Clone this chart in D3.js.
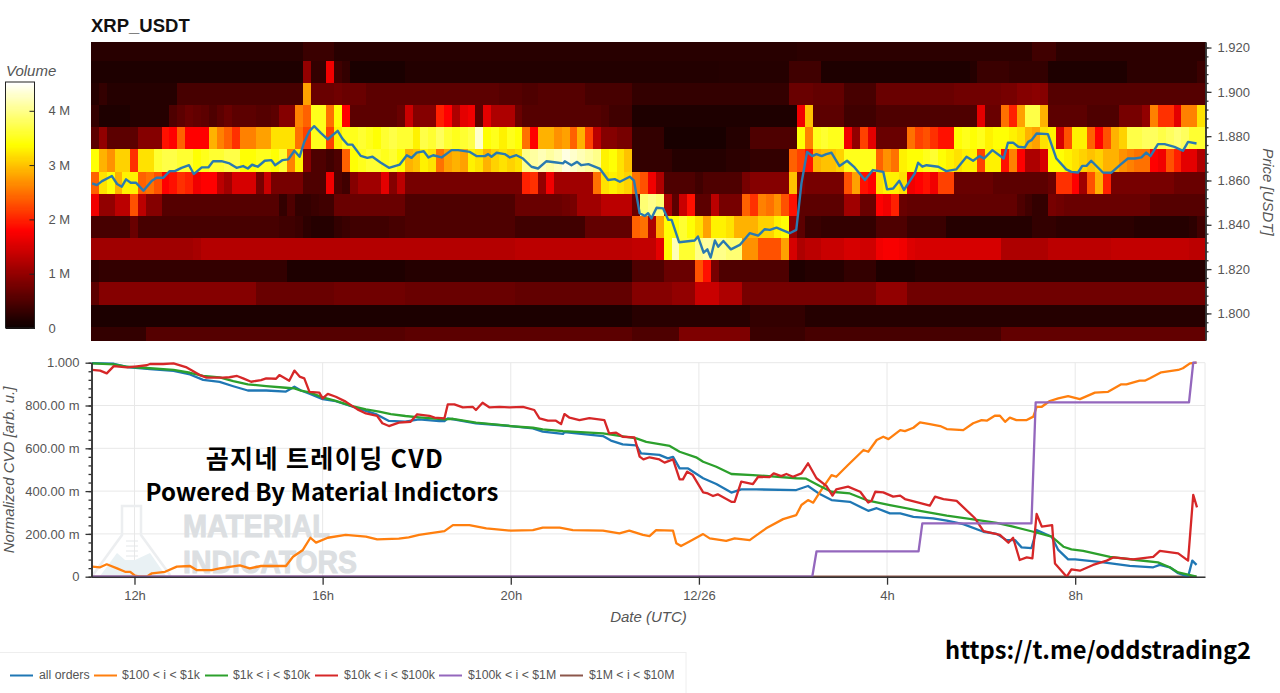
<!DOCTYPE html>
<html>
<head>
<meta charset="utf-8">
<script src="https://cdn.jsdelivr.net/npm/d3@7"></script>
<style>
  body { margin: 0; background: #fff; }
  text { font-family: "Liberation Sans", Arial, sans-serif; }
</style>
</head>
<body>
<script>
// volume per 0.01 price bucket, top row first, one value per 10 minute column (in millions)
const row0 = [.22,.22,.22,.22,.22,.22,.22,.22,.22,.22, .22,.22,.22,.22,.22,.22,.22,.22,.22,.22, .22,.22,.22,.22,.22,.22,.22,.35,.35,.35,
  .35,.22,.22,.22,.22,.22,.22,.22,.22,.22, .22,.22,.22,.22,.22,.22,.22,.22,.22,.22, .22,.22,.22,.22,.22,.22,.22,.22,.22,.22,
  .22,.22,.22,.22,.22,.22,.22,.22,.22,.22, .22,.22,.22,.22,.22,.22,.22,.22,.22,.22, .22,.22,.22,.22,.22,.22,.22,.22,.22,.22,
  .25,.25,.25,.25,.25,.25,.25,.25,.25,.25, .25,.25,.25,.25,.25,.25,.25,.25,.25,.25, .25,.25,.25,.25,.25,.25,.25,.25,.25,.25,
  .4,.4,.4,.25,.25,.25,.25,.25,.25,.25, .25,.25,.25,.25,.25,.25,.25,.25,.25,.25, .25,.25];
const row1 = [.15,.15,.15,.15,.15,.15,.15,.15,.15,.15, .15,.15,.15,.15,.15,.15,.15,.15,.15,.15, .15,.15,.15,.15,.15,.15,.15,1,.3,.3,
  1.7,.4,.3,.12,.12,.12,.12,.12,.12,.12, .18,.18,.18,.18,.18,.18,.18,.18,.18,.18, .18,.18,.18,.18,.18,.18,.18,.18,.18,.18,
  .18,.18,.18,.18,.18,.18,.18,.18,.18,.18, .18,.18,.18,.18,.18,.18,.18,.18,.18,.18, .2,.2,.2,.2,.2,.2,.2,.2,.2,.4,
  .4,.4,.4,.15,.15,.15,.15,.15,.15,.15, .15,.15,.15,.15,.15,.15,.15,.15,.15,.15, .15,.15,.2,.35,.35,.35,.35,.3,.3,.3,
  .3,.3,.15,.15,.15,.15,.15,.15,.15,.15, .15,.15,.25,.25,.25,.25,.25,.25,.25,.25, .25,.35];
const row2 = [.2,.3,.2,.2,.2,.2,.2,.2,.2,.2, .2,.45,.45,.45,.45,.45,.45,.45,.45,.45, .45,.45,.45,.45,.45,.45,.45,2.8,.7,.7,
  .7,.75,.7,.7,.7,.6,.6,.6,.6,.6, .6,.6,.6,.6,.6,.6,.6,.6,.6,.6, .6,.6,.55,.55,.55,.5,.5,.55,.55,.55,
  .55,.55,.55,.45,.45,.45,.45,.45,.45,.3, .3,.3,.3,.3,.3,.3,.3,.3,.3,.3, .3,.3,.3,.3,.3,.3,.3,.3,.3,.7,
  .7,.7,.65,.65,.65,.65,.45,.45,.45,.45, .7,.7,.7,.7,.7,.7,.7,.7,.7,.7, .75,.75,.75,.75,.75,.75,.8,.8,.9,.9,
  .95,.9,.55,.55,.55,.55,.55,.55,.55,.55, .55,.55,.55,.55,.55,.55,.55,.55,.55,.55, .55,.55];
const row3 = [.3,.15,.15,.15,.15,.2,.2,.2,.2,.2, .5,.6,.7,.65,.6,.5,.6,.7,.6,.6, .6,.55,.55,.6,.9,.9,2.6,2.4,3.5,3.5,
  2.5,3.4,1.8,.6,.6,.6,.6,.6,.6,.7, 1.4,.9,.9,.9,2,1.8,1.2,1.6,1.7,.6, 1.6,1.2,1.2,1.2,.7,.55,.55,.55,.55,.55,
  .55,.55,.55,.55,.55,.5,.4,.4,.4,.15, .15,.15,.15,.15,.15,.15,.15,.15,.15,.15, .15,.15,.15,.15,.15,.15,.15,.15,.15,.15,
  1.7,3,.6,.6,.6,.6,.4,.4,.4,.4, .5,.5,.5,.5,.5,.5,.5,.5,.5,.5, .5,.5,.5,1.6,.7,.7,2.5,2,2.8,3.7,
  3.7,2.9,.6,.6,.6,.6,.6,.5,.5,.5, .5,.8,.8,.8,1,2.6,2.1,2.1,1.6,2.6, 2.6,3.2];
const row4 = [.6,1,.6,.6,.6,.6,.9,.9,.9,1.9, 1.8,2.4,1.8,1.8,1.8,2.9,2.6,2.4,2.1,2.6, 2.6,2.8,2.8,3.2,3.2,3.2,2.5,2.2,3.5,3.5,
  2.2,3.3,3.5,3.5,3.6,3.5,3.4,3.6,3.7,3.6, 3.6,3.3,3.7,3.6,3.8,3.6,3.5,3.6,3.7,4.3, 3.4,3.5,3.3,3.5,3.4,2.5,1.8,2.9,2.9,2.7,
  2.8,2.4,2.9,2.2,1.3,.9,.9,.8,.8,.3, .3,.3,.3,.1,.1,.1,.1,.1,.1,.1, .1,.2,.2,.2,.5,.5,.5,.5,.5,.5,
  3.4,2.6,3.5,3.6,3.5,3.5,1.7,1,2.2,1.6, .7,.7,.7,.7,2.5,2.2,2.3,2.1,1.9,1.9, 3.4,3.5,3.4,3.5,3.3,3.4,3.4,3.3,3.2,2.9,
  2.8,3.2,3.3,1.5,2.3,3.3,3.3,2.4,1.8,2.3, 2.9,3.1,3.7,3.7,3.8,3.8,3.7,3.8,3.9,3.8, 3.6,3.6];
const row5 = [3.4,2.9,2.7,3.1,3.1,2.1,3.2,3.2,3.6,3.7, 3.7,3.6,3.6,3.4,3.5,3.6,3.6,3.7,3.7,3.4, 3.4,3.5,3.5,3.4,3.6,2.6,3.3,.9,.5,.5,
  .4,.5,2.4,3.4,3.5,3.6,3.6,3.5,3.6,3.4, 2.9,3,3.3,3.2,2.5,2.8,2.9,2.8,3.3,3.2, 2.9,3.1,3.2,3.1,3.2,4,4.1,4.2,4.1,4.2,
  4.4,4.3,4.2,4.1,4,3.3,3.4,3.2,3,.3, .3,.3,.3,.3,.2,.2,.2,.2,.2,.2, .2,.25,.25,.25,.3,.3,.3,.3,.3,2.4,
  2.2,1.9,2.9,3,3,3.1,3.5,3.5,3.5,3.5, 2.4,2.7,2.5,3.3,3.4,3.4,3.5,3.6,3.4,3.3, 3.2,3.3,3.3,2.2,3.3,3.3,1.9,2.6,1.8,1.2,
  1.2,1.5,3.4,3.4,3.3,3.2,3.1,3,3.1,2.9, 2.9,2.7,2.6,2.5,2.5,1.8,1.7,2.3,2,1.6, 1.6,1.2];
const row6 = [2.4,3.2,3.4,2.9,3.3,3.3,2.4,2.5,2.3,1.8, 1.9,2.1,2,1.7,1.8,1.8,1.3,1.1,1.5,1.5, 1.5,.8,1.4,.8,.8,.8,.8,.5,.5,.5,
  1.7,.5,.4,.9,1.1,1.1,1.1,1.6,.9,1.3, .8,.8,.8,.8,.8,.8,.8,.8,.8,.8, .8,.8,.8,.8,.8,2,2.1,1,1.7,1.1,
  1.1,1.1,1.1,1.1,2.5,3.2,3.3,3.2,3.1,2.5, 2.3,1.7,1.2,.5,.5,.5,.5,.4,.5,.5, .5,.5,.5,.8,.9,.9,.9,.9,.9,3,
  .9,.8,.8,.8,.8,.8,2.3,2.8,1.9,1.8, 3.2,3.3,3.3,3.2,1.7,1.8,1.9,1.7,2.2,2.2, .7,.7,.7,.7,.7,.6,.6,.6,.6,.6,
  .6,.6,.7,2.1,2.1,1.8,1.1,2.3,2.9,2, .8,.8,.8,.8,.8,.8,.8,.8,.7,.7, .7,.7];
const row7 = [1.7,1,1,1.3,1.3,2.3,1.3,.9,.9,.55, .55,.55,.55,.55,.55,.55,.55,.55,.55,.55, .55,.55,.55,.55,.3,.5,.3,.3,.35,.4,
  .4,.7,.7,.7,.7,.7,.7,.7,.7,.7, .5,.5,.5,.5,.5,.5,.5,.5,.5,.5, .5,.5,.5,.5,.7,.7,.7,.7,.7,.7,
  .75,.8,1.1,1.1,1.1,1.3,1.3,1.3,1.3,.7, 3.9,4,3.9,1.2,.6,1.4,1.9,.6,.6,1.3, .8,.8,.8,2.4,2.1,2.6,2.5,2.7,2.3,1.9,
  .6,.6,.6,.6,.6,.6,1.1,1.1,.7,.7, 1.8,1.7,2,.7,.65,.65,.65,.65,.65,.65, .65,.65,.65,.65,.65,.65,.65,.65,.5,.4,
  .3,.3,.8,.75,.7,.7,.7,.7,.7,.7, .7,.7,.7,.7,.7,.55,.55,.55,.55,.55, .55,.55];
const row8 = [.45,.45,.45,.45,.45,.7,.45,.45,.45,.45, .45,.45,.45,.45,.45,.45,.45,.45,.45,.45, .45,.45,.45,.45,.4,.4,.35,.25,.2,.2,
  .2,.3,.35,.4,.4,.4,.4,.4,.45,.45, .5,.5,.5,.5,.5,.5,.5,.5,.5,.5, .5,.5,.5,.5,.4,.4,.4,.4,.4,.4,
  .4,.4,.4,.65,.65,.65,.65,.65,.65,2.4, 2.5,1.2,2.8,3.4,3.4,3.6,3.4,3.2,2.8,3.3, 3.3,3.2,2.9,2.9,2.9,3.1,3.1,3.3,3.4,1,
  .6,.35,.35,.3,.3,.3,.3,.3,.3,.3, .5,.5,.5,.5,.35,.35,.35,.35,.35,.2, .2,.2,.2,.2,.2,.2,.2,.2,.2,.2,
  .3,.3,.3,.25,.25,.25,.25,.25,.25,.25, .25,.25,.25,.2,.2,.2,.2,.2,.2,.2, .25,.4];
const row9 = [1.1,1.1,1.1,1.1,1.1,1.1,1.1,1.1,1.1,1.1, 1.1,1.1,1.1,1.15,1.25,1.25,1.25,1.25,1.25,1.25, 1.25,1.25,1.25,1.25,1.25,1.25,1.25,1.25,1.25,1.25,
  1.25,1.25,1.25,1.25,1.25,1.25,1.25,1.25,1.25,1.25, 1.25,1.25,1.25,1.25,1.25,1.25,1.25,1.25,1.25,1.25, 1.25,1.25,1.25,1.25,1.3,1.3,1.3,1.3,1.3,1.3,
  1.3,1.3,1.3,1.3,1.3,1.3,1.3,1.3,1.3,1.35, 1.35,1.35,1.6,3.4,4.2,3.6,3.6,4,4.1,4, 4,3.9,3.9,2.7,2.7,2.3,2.3,2.3,2.8,1.5,
  1.2,1.3,1.3,1.4,1.4,1.4,1.5,1.5,1.45,1.45, 1.7,1.75,1.75,1.7,1.55,1.5,1.5,1.5,1.5,1.5, 1.5,1.5,1.5,1.5,1.5,1.5,1.2,1.2,1.2,1.2,
  1.2,1.2,1.3,1.3,1.3,1.3,1.3,1.3,1.3,1.3, 1.35,1.35,1.35,1.35,1.35,1.35,1.35,1.35,1.35,1.35, 1.3,1.3];
const row10 = [.25,.3,.3,.3,.3,.3,.3,.3,.3,.3, .3,.3,.3,.3,.3,.3,.3,.3,.3,.3, .3,.3,.3,.3,.3,.15,.15,.15,.15,.15,
  .15,.15,.15,.15,.15,.15,.15,.15,.15,.15, .2,.2,.2,.2,.2,.2,.2,.2,.2,.2, .2,.2,.2,.2,.2,.2,.2,.2,.2,.2,
  .2,.2,.2,.2,.2,.2,.2,.2,.2,.5, .5,.5,.5,.7,.7,.7,.7,2.3,1.9,.8, .5,.5,.5,.5,.5,.5,.5,.5,.5,.15,
  .15,.2,.2,.2,.2,.2,.3,.3,.3,.3, .15,.15,.15,.15,.15,.2,.2,.2,.2,.2, .2,.2,.2,.2,.2,.2,.2,.2,.2,.2,
  .2,.2,.2,.2,.2,.2,.2,.2,.2,.2, .2,.2,.2,.2,.2,.2,.2,.2,.2,.2, .2,.2];
const row11 = [.6,.9,.9,.9,.9,.9,.9,.9,.9,.9, .9,.9,.9,.9,.9,.9,.9,.9,.9,.9, .9,.7,.7,.7,.7,.7,.7,.7,.7,.7,
  .7,.75,.75,.75,.75,.75,.75,.75,.75,.75, .7,.7,.7,.7,.7,.7,.7,.7,.7,.7, .7,.7,.7,.7,.65,.65,.65,.65,.65,.65,
  .65,.65,.65,.65,.65,.65,.65,.65,.65,.9, .9,.9,.9,.9,1,1,1,1.4,1.4,1.4, 1.2,1.2,1.2,.8,.8,.8,.8,.8,.8,.8,
  .8,.8,.8,.8,.8,.8,.8,.8,.8,.8, 1,1,1,1,.75,.75,.75,.75,.75,.75, .75,.75,.75,.75,.75,.75,.75,.75,.75,.75,
  .75,.75,.75,.75,.75,.75,.75,.75,.75,.75, .75,.75,.75,.75,.75,.75,.75,.75,.75,.75, .75,.75];
const row12 = [.13,.13,.13,.13,.13,.13,.13,.13,.13,.13, .13,.13,.13,.13,.13,.13,.13,.13,.13,.13, .13,.13,.13,.13,.13,.13,.13,.13,.13,.13,
  .13,.13,.13,.13,.13,.13,.13,.13,.13,.13, .13,.13,.13,.13,.13,.13,.13,.13,.13,.13, .13,.13,.13,.13,.13,.13,.13,.13,.13,.13,
  .13,.13,.13,.13,.13,.13,.13,.13,.13,.22, .22,.22,.22,.22,.22,.22,.22,.22,.22,.22, .22,.22,.22,.22,.3,.3,.3,.3,.3,.3,
  .3,.2,.2,.2,.2,.2,.2,.2,.2,.2, .2,.2,.2,.2,.2,.2,.2,.2,.2,.2, .2,.2,.2,.2,.2,.2,.2,.2,.2,.2,
  .2,.2,.2,.2,.2,.2,.2,.2,.2,.2, .2,.2,.2,.2,.2,.2,.2,.2,.2,.2, .2,.2];
const row13 = [.3,.3,.3,.3,.3,.3,.3,.55,.55,.55, .55,.55,.55,.55,.55,.55,.55,.55,.55,.55, .55,.55,.55,.55,.55,.55,.55,.55,.55,.55,
  .55,.55,.55,.55,.55,.55,.55,.55,.55,.55, .6,.6,.6,.6,.6,.6,.6,.6,.6,.6, .6,.6,.6,.6,.6,.6,.6,.6,.6,.6,
  .6,.6,.6,.6,.6,.6,.6,.6,.6,.5, .5,.5,.5,.5,.5,.85,.85,.85,.85,.85, .85,.85,.85,.85,.35,.35,.35,.35,.35,.35,
  .35,.45,.45,.45,.45,.45,.45,.45,.45,.45, .45,.45,.45,.45,.45,.45,.45,.45,.45,.45, .45,.45,.45,.45,.45,.45,.65,.65,.65,.65,
  .65,.65,.65,.65,.65,.65,.65,.65,.65,.65, .65,.65,.65,.65,.65,.65,.65,.65,.65,.65, .65,.65];
const heatRows = [row0, row1, row2, row3, row4, row5, row6, row7, row8, row9, row10, row11, row12, row13];

// bucket edges in USDT, top to bottom
const rowEdges = [1.9225, 1.914, 1.904, 1.894, 1.884, 1.874, 1.864, 1.854, 1.844, 1.834, 1.824, 1.814, 1.804, 1.794, 1.788];

// time is hours since 12/25 00:00
const priceLine = [[11.1,1.8587],[11.2,1.8579],[11.31,1.8597],[11.52,1.862],[11.63,1.8584],[11.73,1.8572],[11.82,1.8605],[11.92,1.859],[12.03,1.859],[12.19,1.8554],
  [12.37,1.8599],[12.47,1.8612],[12.61,1.8612],[12.75,1.8642],[12.86,1.8642],[13,1.8657],[13.16,1.8669],[13.26,1.8629],[13.43,1.8659],[13.57,1.8659],
  [13.67,1.8687],[13.85,1.8687],[14.02,1.8677],[14.17,1.8657],[14.31,1.8665],[14.41,1.8654],[14.5,1.8671],[14.62,1.8662],[14.77,1.8689],[14.91,1.8692],
  [14.99,1.8669],[15.15,1.8692],[15.27,1.8695],[15.4,1.8734],[15.51,1.8707],[15.61,1.8774],[15.72,1.8823],[15.82,1.8845],[15.96,1.8815],[16.11,1.8786],
  [16.32,1.8824],[16.42,1.8789],[16.53,1.8762],[16.63,1.8762],[16.81,1.8711],[16.95,1.8702],[17.06,1.8707],[17.23,1.8681],[17.41,1.8657],[17.64,1.8672],
  [17.79,1.8714],[17.89,1.8702],[18,1.8726],[18.15,1.8732],[18.25,1.8704],[18.35,1.8714],[18.53,1.8704],[18.74,1.8737],[18.88,1.8737],[19.13,1.8729],
  [19.27,1.871],[19.45,1.871],[19.52,1.8719],[19.59,1.8707],[19.7,1.8725],[19.87,1.8719],[19.98,1.8704],[20.12,1.8714],[20.26,1.8699],[20.44,1.8662],
  [20.58,1.8654],[20.76,1.8687],[20.97,1.8681],[21.11,1.8677],[21.15,1.8687],[21.29,1.8669],[21.41,1.8684],[21.5,1.8669],[21.65,1.8674],[21.89,1.8654],
  [22.07,1.8602],[22.21,1.8606],[22.32,1.8594],[22.53,1.8617],[22.62,1.8599],[22.74,1.8452],[22.85,1.844],[22.92,1.8452],[22.99,1.8429],[23.1,1.8477],
  [23.24,1.8474],[23.35,1.8422],[23.42,1.8422],[23.58,1.8321],[23.91,1.8329],[23.98,1.8347],[24.1,1.8274],[24.18,1.8289],[24.25,1.8252],[24.34,1.8329],
  [24.41,1.8301],[24.52,1.8327],[24.68,1.8289],[24.87,1.8309],[25.08,1.8362],[25.26,1.8351],[25.4,1.838],[25.51,1.8377],[25.65,1.8387],[25.93,1.8362],
  [26.07,1.8377],[26.18,1.8587],[26.3,1.8729],[26.41,1.871],[26.5,1.8719],[26.61,1.871],[26.71,1.8719],[26.82,1.8725],[26.99,1.8665],[27.15,1.8689],
  [27.31,1.8659],[27.53,1.8602],[27.7,1.8647],[27.92,1.8639],[28,1.856],[28.13,1.8564],[28.26,1.8599],[28.36,1.8557],[28.59,1.8632],[28.66,1.868],
  [28.75,1.8662],[28.84,1.8669],[29.09,1.8662],[29.26,1.8642],[29.47,1.865],[29.69,1.8707],[29.83,1.8689],[29.97,1.871],[30.06,1.8699],[30.24,1.8737],
  [30.48,1.8699],[30.57,1.877],[30.68,1.8771],[30.79,1.8752],[30.93,1.8749],[31,1.8774],[31.07,1.8782],[31.18,1.8812],[31.42,1.8809],[31.6,1.8699],
  [31.81,1.865],[31.92,1.8639],[32.06,1.8636],[32.15,1.8666],[32.24,1.8666],[32.34,1.8689],[32.59,1.8636],[32.77,1.8635],[32.95,1.8669],[33.12,1.8699],
  [33.27,1.8699],[33.41,1.8704],[33.51,1.8726],[33.6,1.871],[33.76,1.8764],[33.9,1.8764],[34.11,1.8752],[34.29,1.8734],[34.4,1.8774],[34.58,1.8767]];

const cvdAll = [[11.09,.998],[11.56,.995],[11.84,.98],[12.33,.97],[12.83,.962],[13.18,.945],[13.46,.92],[13.81,.91],[14.1,.89],[14.41,.87],[14.8,.87],[15.22,.865],[15.4,.888],[15.54,.87],[15.72,.855],
  [16,.83],[16.28,.82],[16.56,.8],[16.85,.78],[17.13,.76],[17.41,.728],[17.76,.725],[18.05,.735],[18.48,.727],[18.59,.727],[18.66,.74],[19.26,.717],[20,.704],[20.47,.693],[20.68,.678],
  [21.11,.667],[21.14,.676],[21.96,.657],[22.13,.636],[22.38,.618],[22.67,.614],[22.77,.576],[23.16,.569],[23.34,.553],[23.45,.56],[23.59,.506],[23.77,.506],[24.09,.46],[24.37,.433],[24.69,.393],
  [24.9,.408],[25.22,.408],[26.07,.405],[26.32,.424],[26.57,.386],[26.82,.358],[27.21,.35],[27.6,.308],[27.78,.32],[28.06,.296],[28.28,.296],[28.56,.28],[28.77,.276],[28.98,.273],[29.27,.262],
  [29.62,.246],[30.05,.21],[30.33,.2],[30.54,.171],[30.72,.171],[30.86,.137],[31.07,.134],[31.18,.218],[31.5,.187],[31.64,.125],[31.85,.081],[32,.081],[32.6,.067],[33.16,.051],[33.66,.044],
  [33.8,.055],[34.01,.044],[34.19,.016],[34.4,0],[34.49,.075],[34.58,.055]];
const cvd100 = [[11.1,.047],[11.27,.044],[11.41,.058],[11.63,.039],[11.8,.023],[11.91,.023],[12.01,.005],[12.12,0],[12.26,0],[12.37,.016],[12.65,.023],[12.9,.047],[13.18,.05],[13.32,.031],[13.64,.031],
  [13.81,.039],[14.24,.053],[14.45,.039],[14.69,.05],[15.22,.05],[15.37,.093],[15.58,.125],[15.74,.182],[15.86,.159],[16.11,.182],[16.49,.195],[16.92,.187],[17.16,.174],[17.62,.178],[17.83,.184],
  [18.05,.195],[18.59,.213],[18.77,.241],[19.12,.241],[19.48,.226],[20,.215],[20.47,.218],[20.68,.229],[21.04,.229],[21.32,.218],[21.96,.215],[22.31,.202],[22.52,.215],[22.81,.195],[22.95,.19],
  [23.09,.218],[23.45,.215],[23.52,.156],[23.62,.143],[23.8,.164],[24.09,.199],[24.23,.179],[24.58,.167],[24.76,.179],[25.08,.171],[25.22,.193],[25.43,.226],[25.79,.269],[26.07,.288],[26.18,.335],
  [26.32,.358],[26.43,.346],[26.6,.405],[26.82,.475],[26.92,.467],[27.17,.522],[27.5,.592],[27.6,.584],[27.78,.639],[27.92,.654],[28.03,.643],[28.28,.685],[28.38,.68],[28.56,.696],[28.7,.721],
  [28.91,.713],[29.13,.704],[29.27,.69],[29.62,.685],[29.83,.717],[30.01,.732],[30.12,.729],[30.29,.752],[30.4,.752],[30.51,.724],[30.61,.743],[30.75,.732],[30.97,.732],[31.11,.748],[31.18,.794],
  [31.29,.794],[31.46,.821],[31.64,.833],[31.85,.844],[32.1,.83],[32.42,.86],[32.7,.864],[32.98,.899],[33.09,.899],[33.37,.916],[33.48,.916],[33.59,.927],[33.83,.955],[34.19,.966],[34.29,.974],
  [34.44,.997],[34.58,1]];
const cvd1k = [[11.1,.997],[11.56,.992],[11.84,.981],[12.33,.974],[12.83,.966],[13.18,.953],[13.46,.938],[13.81,.931],[14.1,.914],[14.41,.899],[14.8,.891],[15.22,.883],[15.4,.88],[15.54,.869],[15.72,.861],
  [16,.838],[16.28,.822],[16.63,.797],[16.92,.782],[17.2,.771],[17.45,.76],[17.76,.751],[18.05,.745],[18.59,.735],[18.77,.738],[19.26,.72],[20,.704],[20.47,.696],[20.68,.688],[21.11,.68],[21.96,.67],
  [22.67,.646],[22.88,.63],[23.38,.611],[23.59,.584],[23.94,.558],[24.09,.537],[24.37,.514],[24.69,.48],[25.15,.475],[26.07,.46],[26.28,.458],[26.57,.424],[26.82,.397],[27.21,.389],[27.6,.355],
  [28.06,.335],[28.7,.308],[29.27,.285],[29.83,.268],[30.33,.252],[30.68,.234],[31.11,.21],[31.5,.187],[31.75,.14],[31.92,.128],[32.17,.121],[32.74,.093],[33.3,.078],[33.76,.067],[34.01,.044],[34.19,.02],[34.58,0]];
const cvd10k = [[11.1,.966],[11.27,.963],[11.41,.95],[11.56,.984],[11.84,.978],[12.05,.983],[12.26,.988],[12.33,.994],[12.61,.994],[12.83,.997],[13.11,.978],[13.39,.942],[13.53,.93],[13.88,.93],[14.02,.932],
  [14.18,.938],[14.31,.927],[14.48,.911],[14.69,.919],[14.8,.927],[15.01,.925],[15.08,.942],[15.29,.916],[15.4,.963],[15.51,.935],[15.61,.927],[15.72,.864],[15.93,.86],[16,.833],[16.11,.854],[16.28,.841],
  [16.49,.818],[16.74,.782],[16.92,.763],[17.16,.751],[17.27,.717],[17.41,.704],[17.62,.72],[17.87,.724],[18.01,.759],[18.27,.752],[18.38,.743],[18.59,.74],[18.66,.805],[18.8,.805],[18.98,.791],
  [19.19,.794],[19.26,.779],[19.4,.813],[19.55,.791],[19.76,.794],[19.97,.791],[20.26,.794],[20.5,.779],[20.61,.74],[20.79,.729],[20.96,.729],[21.07,.713],[21.14,.76],[21.25,.743],[21.46,.732],
  [21.67,.741],[21.99,.732],[22.09,.67],[22.24,.673],[22.38,.654],[22.63,.651],[22.74,.561],[22.82,.548],[22.95,.558],[23.16,.548],[23.27,.533],[23.45,.548],[23.59,.455],[23.66,.455],[23.75,.491],
  [23.87,.475],[24.09,.394],[24.19,.389],[24.3,.377],[24.4,.385],[24.69,.35],[24.76,.35],[24.9,.444],[25.15,.433],[25.26,.467],[25.5,.465],[25.59,.483],[25.75,.47],[25.86,.48],[26,.467],[26.18,.483],
  [26.32,.53],[26.5,.46],[26.71,.424],[26.84,.379],[26.92,.408],[27.17,.421],[27.43,.397],[27.6,.347],[27.67,.355],[27.75,.397],[27.92,.394],[28.13,.374],[28.28,.379],[28.38,.363],[28.67,.346],
  [28.91,.332],[29.02,.374],[29.2,.363],[29.48,.354],[29.87,.273],[30.05,.213],[30.4,.195],[30.58,.159],[30.68,.182],[30.82,.078],[30.97,.09],[31.09,.086],[31.18,.293],[31.29,.234],[31.51,.241],
  [31.57,.062],[31.82,0],[31.92,.034],[32.1,.028],[32.38,.055],[32.67,.075],[32.81,.09],[33.23,.081],[33.66,.093],[33.8,.121],[34.19,.109],[34.4,.075],[34.51,.382],[34.59,.324]];
const cvd100k = [[11.09,0],[26.41,0],[26.5,.118],[28.67,.118],[28.75,.249],[31.07,.249],[31.16,.815],[34.42,.815],[34.51,1],[34.58,1]];
const cvd1m = [[11.09,0],[34.58,0]];

const seriesNames = ["all orders", "$100 < i < $1k", "$1k < i < $10k", "$10k < i < $100k", "$100k < i < $1M", "$1M < i < $10M"];
const seriesColors = ["#1f77b4", "#ff7f0e", "#2ca02c", "#d62728", "#9467bd", "#8c564b"];
const seriesData = [cvdAll, cvd100, cvd1k, cvd10k, cvd100k, cvd1m];
const drawOrder = [5, 0, 1, 2, 3, 4];

const timeTicks = [12, 16, 20, 24, 28, 32];
const timeLabels = ["12h", "16h", "20h", "12/26", "4h", "8h"];
const priceTicks = [1.8, 1.82, 1.84, 1.86, 1.88, 1.9, 1.92];
const cvdTicks = [0, .2, .4, .6, .8, 1];
const volumeTicks = [0, 1, 2, 3, 4];

const left = 91.5, right = 1205;
const svg = d3.select("body").append("svg").attr("width", 1280).attr("height", 693).style("display", "block");

const x = d3.scaleLinear().domain([11.086, 34.76]).range([left, right]);
const yPrice = d3.scaleLinear().domain([1.788, 1.9225]).range([340, 42]);
const yCvd = d3.scaleLinear().domain([0, 1]).range([576.7, 362.7]);
const yVol = d3.scaleLinear().domain([0, 4.53]).range([328, 82]);
const col = d3.scaleBand().domain(d3.range(142)).range([91, right]);

// bokeh "Hot" palette
const hot = d3.scaleLinear().domain([0, 1.8, 3.38, 4.53]).range(["#0a0000", "#ff0000", "#ffff00", "#ffffff"]).clamp(true);

svg.append("text").attr("x", 91).attr("y", 32).style("font-size", "18.5px").style("font-weight", "bold").attr("fill", "#111").text("XRP_USDT");

// heatmap
const rows = svg.append("g").attr("shape-rendering", "crispEdges").selectAll("g").data(heatRows).enter().append("g");
rows.selectAll("rect")
  .data((d, i) => d.map(v => ({v: v, r: i})))
  .enter().append("rect")
  .attr("x", (d, i) => col(i))
  .attr("y", d => yPrice(rowEdges[d.r]))
  .attr("width", col.bandwidth() + .6)
  .attr("height", d => yPrice(rowEdges[d.r + 1]) - yPrice(rowEdges[d.r]) + .6)
  .attr("fill", d => hot(d.v));

const line = yScale => d3.line().x(d => x(d[0])).y(d => yScale(d[1]));

svg.append("path").attr("d", line(yPrice)(priceLine))
  .attr("fill", "none").attr("stroke", "#2a7ab0").attr("stroke-width", 2.4).attr("stroke-linejoin", "round");

// price axis
function styleAxis(g, color) {
  g.select(".domain").attr("stroke", color).attr("stroke-width", 1.5);
  g.selectAll(".tick line").attr("stroke", color).attr("stroke-width", 1.3);
  g.selectAll("text").attr("fill", "#555").style("font-size", "13px");
}
const priceMinor = d3.range(1.792, 1.9225, .004);
svg.append("g").attr("transform", "translate(" + (right + .5) + ",0)")
  .call(d3.axisRight(yPrice).tickValues(priceMinor).tickSize(3).tickFormat("").tickSizeOuter(0))
  .call(styleAxis, "#333");
svg.append("g").attr("transform", "translate(" + (right + .5) + ",0)")
  .call(d3.axisRight(yPrice).tickValues(priceTicks).tickSize(6).tickPadding(6).tickFormat(d3.format(".3f")).tickSizeOuter(0))
  .call(styleAxis, "#333");

svg.append("text").attr("transform", "translate(1263,192) rotate(90)").attr("text-anchor", "middle")
  .style("font-size", "15px").style("font-style", "italic").attr("fill", "#555").text("Price [USDT]");

// colour bar
svg.append("g").attr("shape-rendering", "crispEdges").selectAll("rect").data(d3.range(0, 4.53, .02)).enter().append("rect")
  .attr("x", 5.5).attr("width", 29)
  .attr("y", d => yVol(d + .02)).attr("height", d => yVol(d) - yVol(d + .02) + 1)
  .attr("fill", d => hot(d));
svg.append("rect").attr("x", 5.5).attr("y", 82).attr("width", 29).attr("height", 246)
  .attr("fill", "none").attr("stroke", "#222");
svg.append("g").attr("transform", "translate(34.5,0)")
  .call(d3.axisRight(yVol).tickValues(volumeTicks).tickSize(-5).tickPadding(14).tickFormat(d => d === 0 ? "0" : d + " M"))
  .call(g => g.select(".domain").remove())
  .call(g => g.selectAll(".tick line").attr("stroke", "#222"))
  .call(g => g.selectAll("text").attr("fill", "#555").style("font-size", "13px"));
svg.append("text").attr("x", 6).attr("y", 76).style("font-size", "15px").style("font-style", "italic").attr("fill", "#555").text("Volume");

// CVD panel grid
const grid = svg.append("g").attr("stroke", "#e8e8e8").attr("stroke-width", 1);
grid.selectAll(".h").data(cvdTicks).enter().append("line")
  .attr("x1", left).attr("x2", right).attr("y1", d => yCvd(d)).attr("y2", d => yCvd(d));
grid.selectAll(".v").data(timeTicks).enter().append("line")
  .attr("x1", d => x(d)).attr("x2", d => x(d)).attr("y1", yCvd(1)).attr("y2", yCvd(0));
grid.append("line").attr("x1", right).attr("x2", right).attr("y1", yCvd(1)).attr("y2", yCvd(0));

// watermark
const mark = svg.append("g");
mark.append("path").attr("d", "M122 506 H141 V535 L170 575 Q171 577 167 577 H96 Q92 577 93 575 L122 535 Z")
  .attr("fill", "none").attr("stroke", "#eceef0").attr("stroke-width", 2.5);
mark.append("path").attr("d", "M100 576 L117 553 L125 560 L135 560 L150 553 L166 576 Z").attr("fill", "#e9f1f4");
mark.selectAll("line").data([541, 546, 551, 556]).enter().append("line")
  .attr("x1", 126).attr("x2", 138).attr("y1", d => d).attr("y2", d => d).attr("stroke", "#e4e7e9");
mark.append("text").attr("x", 183).attr("y", 537).attr("textLength", 147).attr("lengthAdjust", "spacingAndGlyphs")
  .style("font-size", "31px").style("font-weight", "bold").attr("fill", "#dcdfe2").attr("stroke", "#dcdfe2").text("MATERIAL");
mark.append("text").attr("x", 183).attr("y", 573).attr("textLength", 174).attr("lengthAdjust", "spacingAndGlyphs")
  .style("font-size", "31px").style("font-weight", "bold").attr("fill", "#dcdfe2").attr("stroke", "#dcdfe2").text("INDICATORS");

// CVD lines
svg.append("g").selectAll("path").data(drawOrder).enter().append("path")
  .attr("d", i => line(yCvd)(seriesData[i]))
  .attr("fill", "none")
  .attr("stroke", i => seriesColors[i])
  .attr("stroke-width", 2.3).attr("stroke-linejoin", "round");

// CVD axes
svg.append("g").attr("transform", "translate(" + left + ",0)")
  .call(d3.axisLeft(yCvd).tickValues(d3.range(0, 1.001, .04)).tickSize(3).tickFormat("").tickSizeOuter(0))
  .call(styleAxis, "#333");
svg.append("g").attr("transform", "translate(" + left + ",0)")
  .call(d3.axisLeft(yCvd).tickValues(cvdTicks).tickSize(6).tickPadding(6).tickSizeOuter(0)
    .tickFormat(d => d === 0 ? "0" : d === 1 ? "1.000" : (d * 1000).toFixed(2) + " m"))
  .call(styleAxis, "#333");
svg.append("g").attr("transform", "translate(0," + yCvd(0) + ")")
  .call(d3.axisBottom(x).tickValues(timeTicks).tickSize(8).tickPadding(6).tickSizeOuter(0).tickFormat((d, i) => timeLabels[i]))
  .call(styleAxis, "#333");

svg.append("text").attr("transform", "translate(14,470) rotate(-90)").attr("text-anchor", "middle")
  .style("font-size", "15px").style("font-style", "italic").attr("fill", "#555").text("Normalized CVD [arb. u.]");
svg.append("text").attr("x", 648.5).attr("y", 622).attr("text-anchor", "middle")
  .style("font-size", "15px").style("font-style", "italic").attr("fill", "#555").text("Date (UTC)");

// legend
const legendLine = [10, 94, 205, 315, 439, 560];
const legendText = [39, 122, 233, 344, 468, 589];
svg.append("rect").attr("x", -2).attr("y", 652.5).attr("width", 688).attr("height", 50).attr("fill", "#fff").attr("stroke", "#eeeeee");
const legend = svg.append("g").selectAll("g").data(seriesNames).enter().append("g");
legend.append("line").attr("x1", (d, i) => legendLine[i]).attr("x2", (d, i) => legendLine[i] + 23).attr("y1", 675.5).attr("y2", 675.5)
  .attr("stroke", (d, i) => seriesColors[i]).attr("stroke-width", 2);
legend.append("text").attr("x", (d, i) => legendText[i]).attr("y", 679).style("font-size", "12.3px").attr("fill", "#555")
  .text(d => d);

// overlay captions
svg.append("text").attr("x", 325).attr("y", 468).attr("text-anchor", "middle")
  .style("font", 'bold 25px "Noto Sans CJK KR", "Noto Sans", sans-serif').style("letter-spacing", "1.4px").attr("fill", "#000").text("곰지네 트레이딩 CVD");
svg.append("text").attr("x", 322).attr("y", 501).attr("text-anchor", "middle")
  .style("font", 'bold 24px "Noto Sans CJK KR", "Noto Sans", sans-serif').attr("fill", "#000").text("Powered By Material Indictors");
svg.append("text").attr("x", 945).attr("y", 659)
  .style("font", 'bold 23.7px "Noto Sans CJK KR", "Noto Sans", sans-serif').attr("fill", "#000").text("https://t.me/oddstrading2");
</script>
</body>
</html>
